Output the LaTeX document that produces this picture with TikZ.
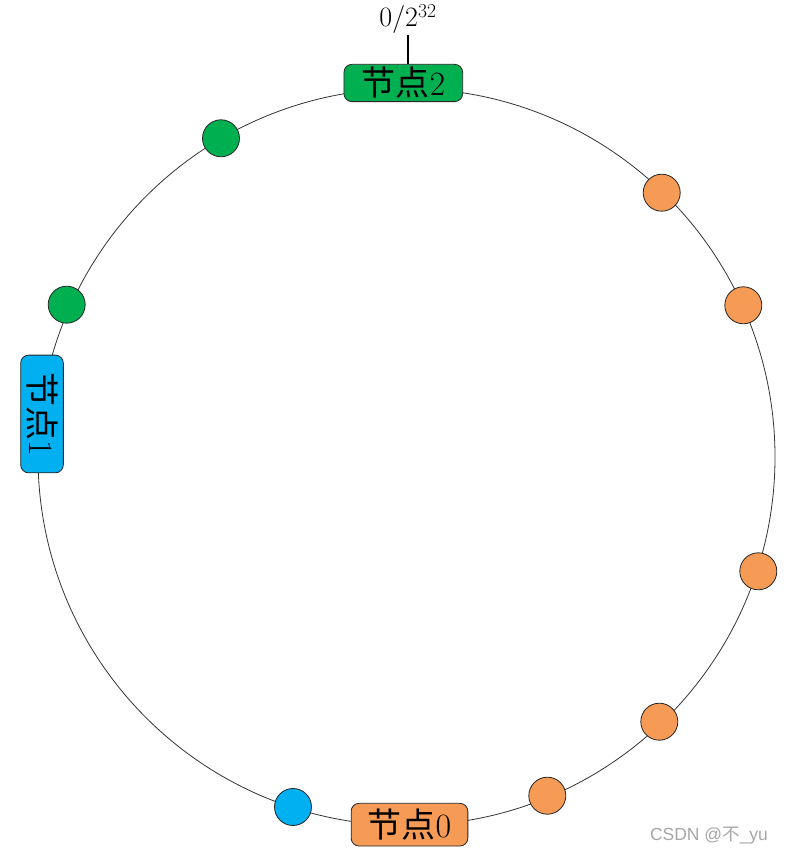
\documentclass[tikz,border=0pt]{standalone}
\usepackage{fontspec}
\newfontfamily\cjk{Noto Sans CJK SC}
\newfontfamily\markfont{Liberation Sans}
\definecolor{ringgreen}{HTML}{00B050}
\definecolor{ringorange}{HTML}{F59B55}
\definecolor{ringblue}{HTML}{00B0F0}
\tikzset{
  server/.style={draw=black!85,line width=0.8pt,rounded corners=8pt,inner sep=0pt,
    font=\fontsize{34}{36}\selectfont},
  datakey/.style={circle,draw=black!85,line width=0.8pt,minimum size=37pt,inner sep=0pt},
}
\begin{document}
\begin{tikzpicture}[x=1pt,y=1pt]
  \useasboundingbox (0,0) rectangle (790,856);
  \coordinate (c) at (406.5,399);
  \draw[black!80,line width=0.8pt] (c) circle[radius=368.5];
  % the three servers on the ring
  \node[server,fill=ringgreen,minimum width=118.7pt,minimum height=37.3pt] (n2) at (403.3,773) {{\cjk 节点}2};
  \node[server,fill=ringblue,minimum width=117.7pt,minimum height=42.7pt,rotate=-90] (n1) at (42,442) {{\cjk 节点}1};
  \node[server,fill=ringorange,minimum width=116.7pt,minimum height=42.7pt] (n0) at (409.5,31.3) {{\cjk 节点}0};
  % keys
  \foreach \pos/\col [count=\i] in {(221,717.7)/ringgreen,(66.7,551.3)/ringgreen,
      (661.7,663.3)/ringorange,(743.3,550.7)/ringorange,(758.3,284.7)/ringorange,
      (659.3,134.3)/ringorange,(547.3,60.3)/ringorange,(293,49)/ringblue}
    \node[datakey,fill=\col] (k\i) at \pos {};
  % start of the hash space
  \coordinate (tick) at (408,821);
  \draw[line width=2pt] (n2.north -| tick) -- (tick);
  \node[above,inner sep=1pt,font=\fontsize{28}{30}\selectfont] (zero) at (tick) {0/2\textsuperscript{32}};
  \node[font=\markfont\fontsize{17.5}{19}\selectfont,text=black!35] (mark) at (709,20.5) {CSDN @{\cjk 不}\_yu};
\end{tikzpicture}
\end{document}
